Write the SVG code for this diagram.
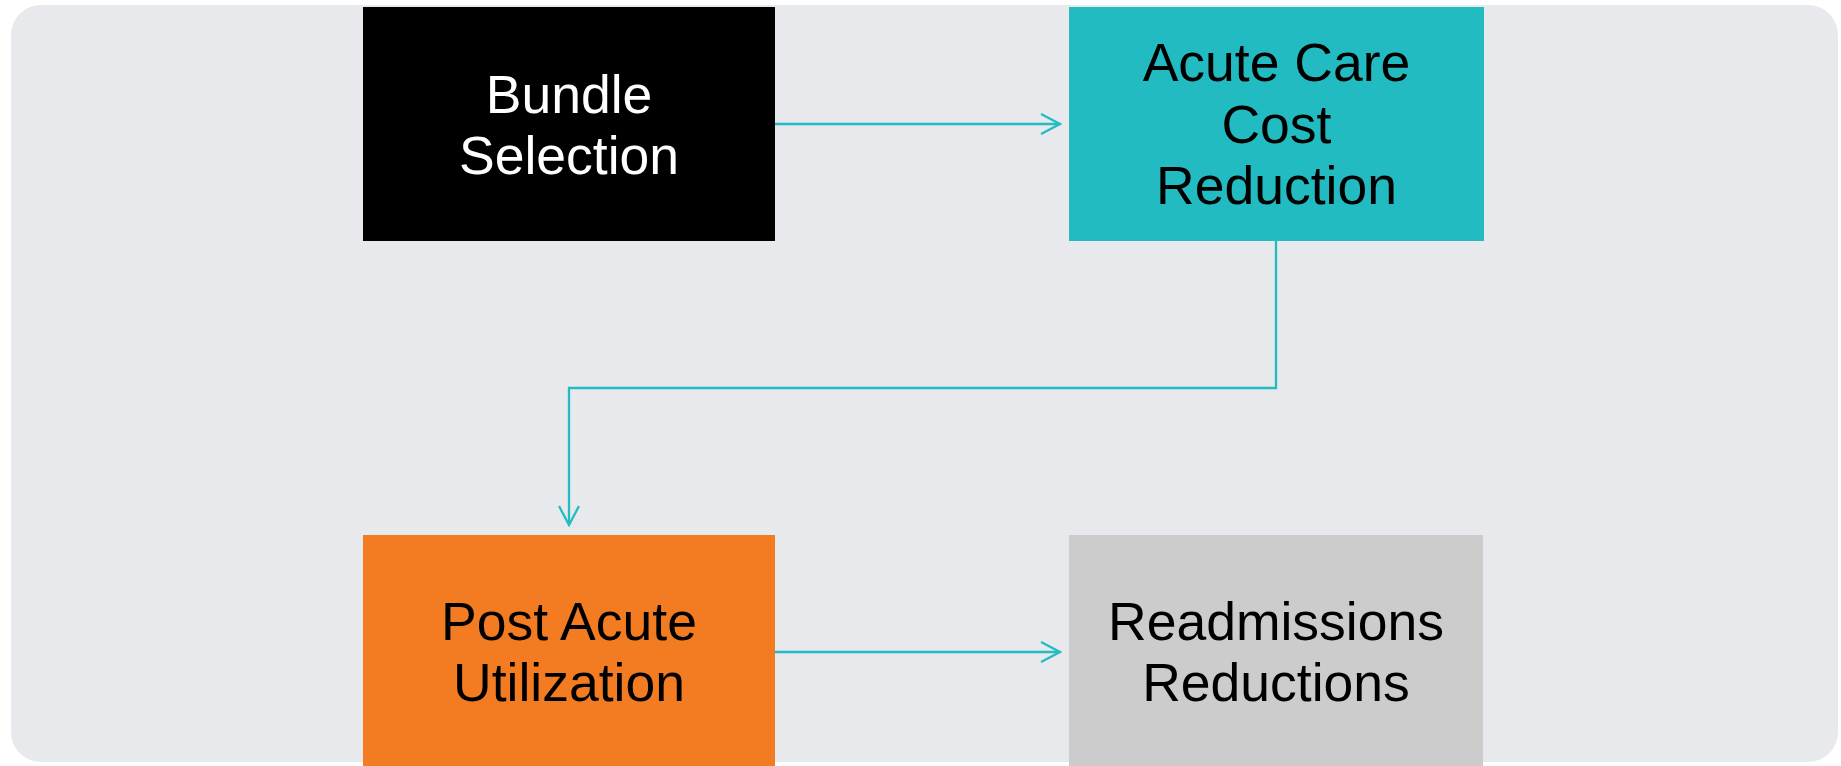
<svg xmlns="http://www.w3.org/2000/svg" width="1841" height="766" viewBox="0 0 1841 766">
  <style>
    .lbl { font-family: "Liberation Sans", Arial, sans-serif; font-size: 53.5px; text-anchor: middle; }
    .conn { fill: none; stroke: #23BCC2; stroke-width: 2.3; }
  </style>
  <defs>
    <marker id="arrow" markerUnits="userSpaceOnUse" viewBox="0 0 22 22" refX="20" refY="11" markerWidth="22" markerHeight="22" orient="auto">
      <path d="M1,1 L20,11 L1,21" fill="none" stroke="#23BCC2" stroke-width="2.3"/>
    </marker>
  </defs>
  <rect x="0" y="0" width="1841" height="766" fill="#FFFFFF"/>
  <rect id="background" x="11" y="5" width="1827" height="757" rx="30" ry="30" fill="#E8E9ED"/>

  <g id="connectors">
    <path class="conn" d="M775,124 H1060" marker-end="url(#arrow)"/>
    <path class="conn" d="M1276,241 V388 H569 V525" marker-end="url(#arrow)"/>
    <path class="conn" d="M775,652 H1060" marker-end="url(#arrow)"/>
  </g>

  <g id="bundle-selection">
    <rect x="363" y="7" width="412" height="234" fill="#000000"/>
    <text class="lbl" fill="#FFFFFF" x="569" y="113">Bundle</text>
    <text class="lbl" fill="#FFFFFF" x="569" y="174">Selection</text>
  </g>

  <g id="acute-care">
    <rect x="1069" y="7" width="415" height="234" fill="#22BBC1"/>
    <text class="lbl" fill="#000000" x="1276.5" y="81">Acute Care</text>
    <text class="lbl" fill="#000000" x="1276.5" y="142.5">Cost</text>
    <text class="lbl" fill="#000000" x="1276.5" y="204">Reduction</text>
  </g>

  <g id="post-acute">
    <rect x="363" y="535" width="412" height="234" fill="#F37B21"/>
    <text class="lbl" fill="#000000" x="569" y="640">Post Acute</text>
    <text class="lbl" fill="#000000" x="569" y="701">Utilization</text>
  </g>

  <g id="readmissions">
    <rect x="1069" y="535" width="414" height="234" fill="#CCCCCC"/>
    <text class="lbl" fill="#000000" x="1276" y="640">Readmissions</text>
    <text class="lbl" fill="#000000" x="1276" y="701">Reductions</text>
  </g>
</svg>
